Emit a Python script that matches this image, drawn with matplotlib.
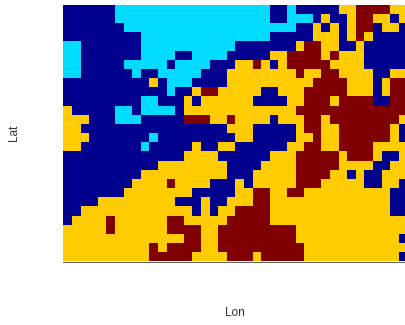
import numpy as np
import matplotlib
matplotlib.use("Agg")
import matplotlib.pyplot as plt
from matplotlib.colors import ListedColormap, BoundaryNorm

plt.rcParams['font.family'] = ['Liberation Sans', 'DejaVu Sans']

# Cluster per grid cell, north row first: D navy, C cyan, Y amber, R dark red
grid_rows = [
    "DDDDDDCCCCCCCCCCCCCC" + "CCCCDDCDDDDDYYRRRRYY",
    "DDDDDDCCCCCCCCCCCCCC" + "CCCCDDCCCDYDDYRRYYDY",
    "DDDDDDDCCCCCCCCCCCCC" + "CCCCCCCDDYDYDYRRDYYD",
    "DDDDDDDDDCCCCCCCCCCC" + "CCCCDDDDDYYYDYRYDDDD",
    "CCDDDDDDDCCCCCCCCCCC" + "DDDDDDDYRRYYDDYDDDDD",
    "CCDDDDDDDCCCCDDCCCCD" + "DDDDYYRRRRYRYYYDDDDD",
    "CCDDDDDCCCCCDCCCCDDD" + "YYRYDYRRRRRYYYYDDDDD",
    "CCDDDDDDCDDCCCCCDDDY" + "YYYYYYYRYYRRYYYYDDYY",
    "DDDDDDDDDDYDCCCDDDDY" + "YYYYYYYYYRRRRYYYDYRR",
    "DDDDDDDDDDDDCDDYRRYY" + "YYYDDYYYRRRRRYYYDYRR",
    "DDDDDDDDDCCDDDYDYYYY" + "YYDDDDYYRRRYRRRRDDRR",
    "YDDDDDCCDCCCCDYYYYYY" + "YYYYYYYRRRRRRRRRRRRR",
    "YYYDDDCCCDDDDDRRRYYR" + "YYYYDYYYRRYRRRRRRRRY",
    "YYDDDDDDDDDDDDDDDDDY" + "YYDDDDDYRRYYRRRRRRYD",
    "YYYDDDDDDDCDDDDDDDDD" + "YYDDDDDYYRYYRRRRRRYD",
    "YYDDDDDDDCDDDDDYDDYY" + "DDDDDDYYRRYYRRRRYYYY",
    "DDDDDDDDDDDDDDYYYYDD" + "DDDDYYYRRRRRYRRRYDDY",
    "DDDDDDDDDDDYYYYYYYYD" + "DDDYYYYRRRRRYYYYDDYY",
    "DDDDDDDDDYYYYYYYYYYD" + "DDYYYYYRRRRYYDYDDYYY",
    "DDDDDDDDYYYYRYYYYDDD" + "YDYYYYYRRRYYYYYDDYYD",
    "DDDDDDDYYYYYYYYDDDDD" + "YYRRYYRRYYYYYYYYYYDD",
    "DDDDYYYYYYYYYDDDYDDY" + "YYRRYYYYYYYYYYYYYYDD",
    "DDYYYYYYYYYYYYYDYDYY" + "RRRRYYYYYYYYYYYYYYDD",
    "DYYYYRYYYYYYRRYYYYYR" + "RRRRYYYYYYYYYYYYYYYY",
    "YYYYYRYYYYYYRRRRYYRR" + "RRRRRRRYYYYYYYYYYYYY",
    "YYYYYYYYYYYYYYRRYYRR" + "RRRRRRRYYYYYYYYYYYYD",
    "YYYYYYYYYYRYRRRRYYRR" + "RRRRRRRRYYYYYYYYYYYY",
    "YYYYYYYYYYRRRRRYYYYR" + "RRYRRRRRYYYYYYYYYYYD",
]
cluster_keys = "DCYR"
cluster_colors = ["#00008F", "#00DCFF", "#FFCC00", "#800000"]
lat_label = "Lat"
lon_label = "Lon"

values = np.array([[cluster_keys.index(c) for c in row] for row in grid_rows])

W, H = 405, 325
fig = plt.figure(figsize=(W / 100, H / 100), dpi=100)
left, right, top, bottom = 63.3, 407.3, 4.7, 261.5
ax = fig.add_axes([left / W, 1 - bottom / H, (right - left) / W, (bottom - top) / H])
ax.pcolormesh(np.arange(values.shape[1] + 1), np.arange(values.shape[0] + 1), values,
              cmap=ListedColormap(cluster_colors),
              norm=BoundaryNorm(np.arange(-0.5, 4.5), 4), antialiased=False, linewidth=0)
ax.invert_yaxis()
ax.set_xticks([])
ax.set_yticks([])
for name, spine in ax.spines.items():
    spine.set_visible(name == "bottom")
ax.spines["bottom"].set_color("#666666")
ax.spines["bottom"].set_linewidth(0.8)

fig.text(235.3 / W, 1 - 313 / H, lon_label, ha="center", va="center", fontsize=8.5, color="#333333")
fig.text(14 / W, 1 - 133 / H, lat_label, ha="center", va="center", rotation=90, fontsize=8.5, color="#333333")

fig.savefig("out.png", dpi=100)
